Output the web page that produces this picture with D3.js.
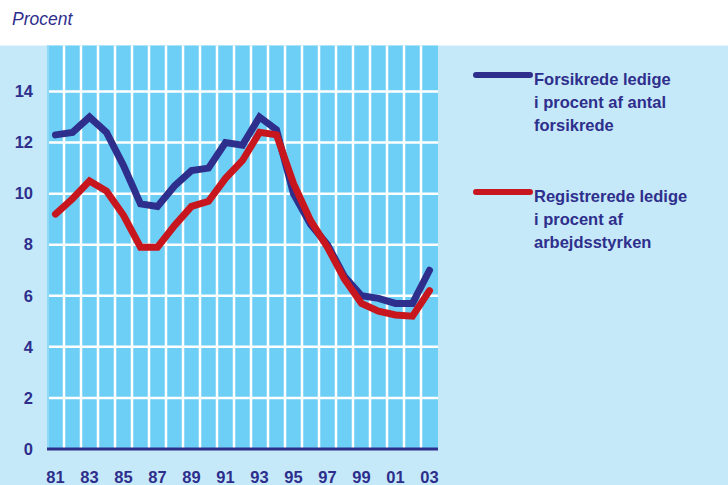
<!DOCTYPE html>
<html><head><meta charset="utf-8">
<script src="https://cdn.jsdelivr.net/npm/d3@7"></script>
<style>html,body{margin:0;padding:0;background:#fff;}svg{display:block;}</style>
</head><body>
<svg id="c" width="728" height="485"></svg>
<script>
const years = ["81","82","83","84","85","86","87","88","89","90","91","92","93","94","95","96","97","98","99","00","01","02","03"];
const xTickLabels = ["81","83","85","87","89","91","93","95","97","99","01","03"];
const yTicks = [0,2,4,6,8,10,12,14];
const forsikrede = [12.3,12.4,13.0,12.4,11.1,9.6,9.5,10.3,10.9,11.0,12.0,11.9,13.0,12.5,10.0,8.8,8.0,6.75,6.0,5.9,5.7,5.7,7.0];
const registrerede = [9.2,9.8,10.5,10.1,9.15,7.9,7.9,8.75,9.5,9.7,10.6,11.3,12.4,12.3,10.4,8.95,7.9,6.65,5.7,5.4,5.25,5.2,6.2];
const seriesNames = ["Forsikrede ledige|i procent af antal|forsikrede","Registrerede ledige|i procent af|arbejdsstyrken"];

const navy = "#2e2e8c", red = "#c8161e", plotBg = "#6dcff6", pageBg = "#c6e9f9";
const svg = d3.select("#c");
const left = 47, right = 438, bottom = 449;
const x = d3.scaleBand().domain(years).range([left, right]).padding(0);
const y = d3.scaleLinear().domain([0, 14]).range([bottom, 91.5]);
const plotTop = y(15.8);

svg.append("rect").attr("x",0).attr("y",plotTop).attr("width",728).attr("height",485-plotTop).attr("fill",pageBg);
svg.append("rect").attr("x",left).attr("y",plotTop).attr("width",right-left).attr("height",bottom-plotTop).attr("fill",plotBg);
svg.append("rect").attr("x",left).attr("y",plotTop).attr("width",2).attr("height",bottom-plotTop).attr("fill","#8fd9f7");

// vertical gridlines at band boundaries
svg.append("g").selectAll("line").data(years.slice(1)).join("line")
  .attr("x1",d=>x(d)).attr("x2",d=>x(d)).attr("y1",plotTop).attr("y2",bottom)
  .attr("stroke","#fff").attr("stroke-width",2.5);
// horizontal gridlines
svg.append("g").selectAll("line").data(yTicks.filter(v=>v>0)).join("line")
  .attr("x1",left+2).attr("x2",right).attr("y1",d=>y(d)).attr("y2",d=>y(d))
  .attr("stroke","#fff").attr("stroke-width",2.5);

// axes
const yAxis = d3.axisLeft(y).tickValues(yTicks).tickSize(0).tickPadding(14);
const gy = svg.append("g").attr("transform",`translate(${left},0)`).call(yAxis);
gy.select(".domain").remove();
gy.selectAll("text").attr("font-family","Liberation Sans, Arial, sans-serif").attr("font-weight","bold")
  .attr("font-size",16.5).attr("fill",navy);

const xAxis = d3.axisBottom(x).tickValues(xTickLabels).tickSize(0).tickPadding(22);
const gx = svg.append("g").attr("transform",`translate(0,${bottom})`).call(xAxis);
gx.select(".domain").remove();
gx.selectAll("text").attr("font-family","Liberation Sans, Arial, sans-serif").attr("font-weight","bold")
  .attr("font-size",16.5).attr("fill",navy);

svg.append("line").attr("x1",left).attr("x2",right).attr("y1",bottom).attr("y2",bottom)
  .attr("stroke",navy).attr("stroke-width",3);

// lines
const line = d3.line().x((d,i)=>x(years[i])+x.bandwidth()/2).y(d=>y(d));
[[forsikrede,navy],[registrerede,red]].forEach(([data,col])=>{
  svg.append("path").datum(data).attr("d",line).attr("fill","none")
    .attr("stroke",col).attr("stroke-width",7).attr("stroke-linejoin","miter").attr("stroke-linecap","round");
});

// title
svg.append("text").attr("x",12).attr("y",25).text("Procent")
  .attr("font-family","Liberation Sans, Arial, sans-serif").attr("font-style","italic")
  .attr("font-size",17.5).attr("fill",navy);

// legend
const legY = [75, 192];
const legCols = [navy, red];
seriesNames.forEach((s,k)=>{
  svg.append("line").attr("x1",476).attr("x2",530).attr("y1",legY[k]).attr("y2",legY[k])
    .attr("stroke",legCols[k]).attr("stroke-width",6).attr("stroke-linecap","round");
  const t = svg.append("text").attr("font-family","Liberation Sans, Arial, sans-serif")
    .attr("font-weight","bold").attr("font-size",16.5).attr("fill",navy);
  s.split("|").forEach((ln,j)=>{
    t.append("tspan").attr("x",534).attr("y",legY[k]+10+j*23).text(ln);
  });
});
</script>
</body></html>
